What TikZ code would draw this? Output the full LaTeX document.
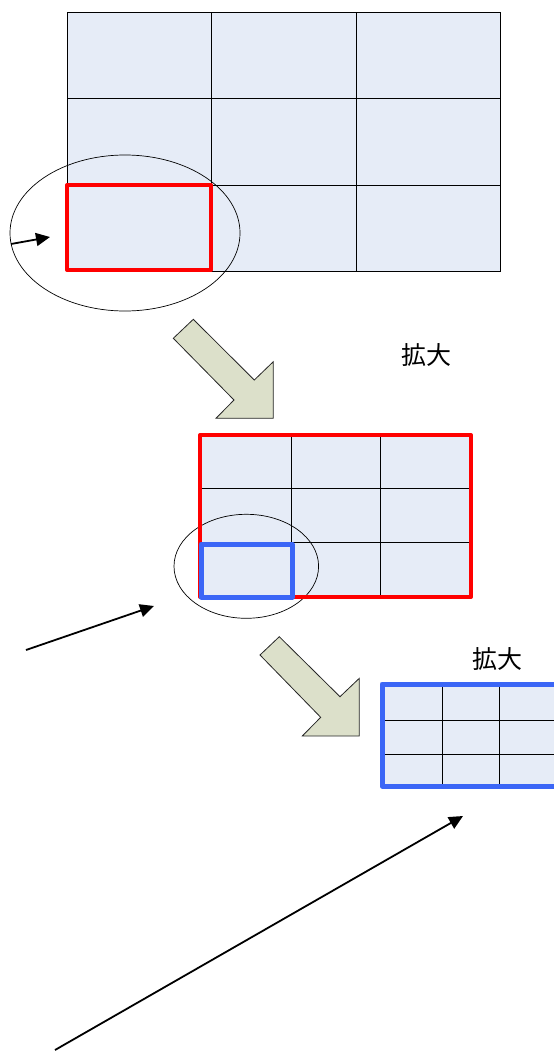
\documentclass[tikz,border=0pt]{standalone}
\usepackage{fontspec}
\newfontfamily\jpfont{Noto Sans CJK JP}
\usetikzlibrary{arrows.meta}
\definecolor{cellfill}{HTML}{E6ECF7}
\definecolor{arrowfill}{HTML}{DCE0CA}
\definecolor{zoomred}{HTML}{FF0000}
\definecolor{zoomblue}{HTML}{3B66F6}
\tikzset{
  cellbox/.style={fill=cellfill, draw=black, line width=0.9pt},
  gridline/.style={draw=black, line width=0.9pt},
  redframe/.style={draw=zoomred, line width=4pt, line join=round},
  blueframe/.style={draw=zoomblue, line width=5pt, line join=round},
  lens/.style={draw=black, line width=0.7pt},
  pointer/.style={draw=black, line width=1.8pt, -{Triangle[length=14pt,width=13pt]}},
  bigarrow/.style={fill=arrowfill, draw=black!85, line width=0.8pt, line join=miter},
  caption/.style={font=\jpfont\fontsize{25}{30}\selectfont, inner sep=0pt}
}
\begin{document}
\begin{tikzpicture}[x=1pt, y=-1pt]
\useasboundingbox (0,0) rectangle (554,1052);
\clip (0,0) rectangle (554,1052);

% first level: 3x3 grid
\path[cellbox] (67,12) rectangle (500,271);
\foreach \x in {211,356} \draw[gridline] (\x,12) -- (\x,271);
\foreach \y in {98,185} \draw[gridline] (67,\y) -- (500,\y);
\draw[lens] (125,233) ellipse [x radius=115, y radius=78];
\draw[redframe] (67,185) rectangle (211,270);
\coordinate (pA0) at (11,244);
\coordinate (pA1) at (50,237);
\draw[pointer] (pA0) -- (pA1);

% first zoom arrow
\draw[bigarrow] (193.3,319.3) -- (254.3,380) -- (273.3,361.7) -- (273.3,418.3)
  -- (216,418.3) -- (234,400) -- (173.3,338.3) -- cycle;
\node[caption] (capA) at (426,355) {拡大};

% second level: enlarged red cell
\path[cellbox] (200,435) rectangle (471,597);
\foreach \x in {291,380} \draw[gridline] (\x,435) -- (\x,597);
\foreach \y in {488,542} \draw[gridline] (200,\y) -- (471,\y);
\draw[lens] (246.3,566.3) ellipse [x radius=72.3, y radius=52];
\draw[redframe] (200,435) rectangle (471,597);
\draw[blueframe] (201,544) rectangle (292,597);
\coordinate (pB0) at (26,650);
\coordinate (pB1) at (154,606);
\draw[pointer] (pB0) -- (pB1);

% second zoom arrow
\draw[bigarrow] (279.3,636.7) -- (340,696.7) -- (359.3,678.3) -- (359.3,736)
  -- (302.3,736) -- (320.7,717.3) -- (260,655) -- cycle;
\node[caption] (capB) at (497,659) {拡大};

% third level: enlarged blue cell
\path[cellbox] (382,684) rectangle (557,786);
\foreach \x in {442,499} \draw[gridline] (\x,684) -- (\x,786);
\foreach \y in {720,754} \draw[gridline] (382,\y) -- (557,\y);
\draw[blueframe] (382,684) rectangle (557,786);
\coordinate (pC0) at (55,1050);
\coordinate (pC1) at (463,816);
\draw[pointer] (pC0) -- (pC1);
\end{tikzpicture}
\end{document}
